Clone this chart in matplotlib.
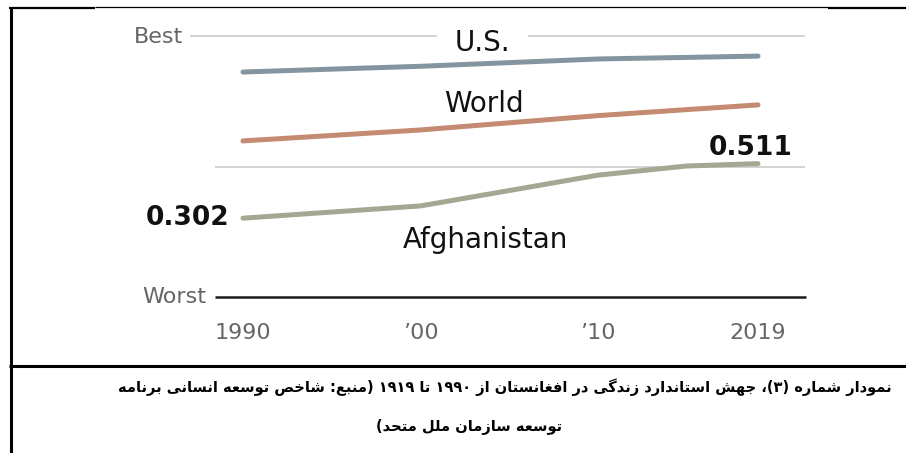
import re
import matplotlib
matplotlib.use("Agg")
import matplotlib.pyplot as plt
from matplotlib.lines import Line2D

# ---------------- data ----------------
years = [1990, 2000, 2010, 2015, 2019]
us = [0.862, 0.884, 0.912, 0.918, 0.923]
world = [0.598, 0.640, 0.695, 0.718, 0.736]
afghanistan = [0.302, 0.349, 0.467, 0.502, 0.511]

tick_years = [1990, 2000, 2010, 2019]
tick_labels = ["1990", "\u201900", "\u201910", "2019"]

series_names = ["U.S.", "World", "Afghanistan"]
caption_line1 = "نمودار شماره (۳)، جهش استاندارد زندگی در افغانستان از ۱۹۹۰ تا ۱۹۱۹ (منبع: شاخص توسعه انسانی برنامه"
caption_line2 = "توسعه سازمان ملل متحد)"

# ---------------- minimal Persian shaping (presentation forms + visual order) ----------------
FORMS = {
    '\u0627': ('\uFE8D', '\uFE8E', None, None),
    '\u0628': ('\uFE8F', '\uFE90', '\uFE91', '\uFE92'),
    '\u067E': ('\uFB56', '\uFB57', '\uFB58', '\uFB59'),
    '\u062A': ('\uFE95', '\uFE96', '\uFE97', '\uFE98'),
    '\u062B': ('\uFE99', '\uFE9A', '\uFE9B', '\uFE9C'),
    '\u062C': ('\uFE9D', '\uFE9E', '\uFE9F', '\uFEA0'),
    '\u0686': ('\uFB7A', '\uFB7B', '\uFB7C', '\uFB7D'),
    '\u062D': ('\uFEA1', '\uFEA2', '\uFEA3', '\uFEA4'),
    '\u062E': ('\uFEA5', '\uFEA6', '\uFEA7', '\uFEA8'),
    '\u062F': ('\uFEA9', '\uFEAA', None, None),
    '\u0630': ('\uFEAB', '\uFEAC', None, None),
    '\u0631': ('\uFEAD', '\uFEAE', None, None),
    '\u0632': ('\uFEAF', '\uFEB0', None, None),
    '\u0698': ('\uFB8A', '\uFB8B', None, None),
    '\u0633': ('\uFEB1', '\uFEB2', '\uFEB3', '\uFEB4'),
    '\u0634': ('\uFEB5', '\uFEB6', '\uFEB7', '\uFEB8'),
    '\u0635': ('\uFEB9', '\uFEBA', '\uFEBB', '\uFEBC'),
    '\u0636': ('\uFEBD', '\uFEBE', '\uFEBF', '\uFEC0'),
    '\u0637': ('\uFEC1', '\uFEC2', '\uFEC3', '\uFEC4'),
    '\u0638': ('\uFEC5', '\uFEC6', '\uFEC7', '\uFEC8'),
    '\u0639': ('\uFEC9', '\uFECA', '\uFECB', '\uFECC'),
    '\u063A': ('\uFECD', '\uFECE', '\uFECF', '\uFED0'),
    '\u0641': ('\uFED1', '\uFED2', '\uFED3', '\uFED4'),
    '\u0642': ('\uFED5', '\uFED6', '\uFED7', '\uFED8'),
    '\u06A9': ('\uFB8E', '\uFB8F', '\uFB90', '\uFB91'),
    '\u06AF': ('\uFB92', '\uFB93', '\uFB94', '\uFB95'),
    '\u0644': ('\uFEDD', '\uFEDE', '\uFEDF', '\uFEE0'),
    '\u0645': ('\uFEE1', '\uFEE2', '\uFEE3', '\uFEE4'),
    '\u0646': ('\uFEE5', '\uFEE6', '\uFEE7', '\uFEE8'),
    '\u0647': ('\uFEE9', '\uFEEA', '\uFEEB', '\uFEEC'),
    '\u0648': ('\uFEED', '\uFEEE', None, None),
    '\u06CC': ('\uFBFC', '\uFBFD', '\uFBFE', '\uFBFF'),
}


def shape(s):
    out = []
    n = len(s)
    for i, c in enumerate(s):
        if c not in FORMS:
            out.append(c)
            continue
        f = FORMS[c]
        prev = s[i - 1] if i > 0 else ''
        nxt = s[i + 1] if i + 1 < n else ''
        jp = prev in FORMS and FORMS[prev][2] is not None
        jn = f[2] is not None and nxt in FORMS
        if jp and jn:
            out.append(f[3])
        elif jp:
            out.append(f[1])
        elif jn:
            out.append(f[2])
        else:
            out.append(f[0])
    return ''.join(out)


def rtl_visual(s):
    rev = shape(s)[::-1]
    rev = re.sub(r'[0-9\u06F0-\u06F9\u0660-\u0669]+', lambda m: m.group(0)[::-1], rev)
    return rev.translate(str.maketrans('()', ')('))


# ---------------- figure ----------------
W, H = 906, 453
fig = plt.figure(figsize=(W / 100, H / 100), dpi=100)
fig.patch.set_facecolor("white")

# axes spanning whole figure, scaled so that 1990..2019 and 0..1 sit where the reference has them
ax = fig.add_axes([0, 0, 1, 1])
k = (758 - 243) / 29.0
ax.set_xlim(1990 - 243 / k, 1990 + (W - 243) / k)
ax.set_ylim(-(H - 297) / 261.0, 297 / 261.0)
ax.axis("off")


def px_year(px):
    return 1990 + (px - 243) / k


def px_val(py):
    return (297 - py) / 261.0


grid_col = "#cccccc"
# "Best" line (with gap around U.S.)
ax.plot([px_year(190), px_year(437)], [1, 1], color=grid_col, lw=1.2, solid_capstyle="butt")
ax.plot([px_year(528), px_year(805)], [1, 1], color=grid_col, lw=1.2, solid_capstyle="butt")
# mid line
ax.plot([px_year(215), px_year(805)], [0.5, 0.5], color=grid_col, lw=1.2, solid_capstyle="butt")
# "Worst" line
ax.plot([px_year(215), px_year(806)], [0, 0], color="#1a1a1a", lw=1.8, solid_capstyle="butt")

colors = {"U.S.": "#8595a0", "World": "#c48a72", "Afghanistan": "#a3a892"}
for name, vals in zip(series_names, [us, world, afghanistan]):
    ax.plot(years, vals, color=colors[name], lw=3.6, solid_capstyle="round",
            solid_joinstyle="round")

lab_font = "DejaVu Sans"
gray = "#666666"
ax.text(px_year(183), px_val(43), "Best", ha="right", va="baseline", fontsize=16,
        color=gray, family=lab_font)
ax.text(px_year(206), px_val(303), "Worst", ha="right", va="baseline", fontsize=16,
        color=gray, family=lab_font)

ax.text(px_year(482), px_val(51), "U.S.", ha="center", va="baseline", fontsize=20,
        color="#111111", family=lab_font)
ax.text(px_year(484), px_val(112), "World", ha="center", va="baseline", fontsize=20,
        color="#111111", family=lab_font)
ax.text(px_year(485), px_val(248), "Afghanistan", ha="center", va="baseline", fontsize=20,
        color="#111111", family=lab_font)

ax.annotate(f"{afghanistan[0]:.3f}", (years[0], afghanistan[0]), xytext=(-10, 0),
            textcoords="offset points", ha="right", va="center", fontsize=19,
            fontweight="bold", color="#111111", family=lab_font)
ax.annotate(f"{afghanistan[-1]:.3f}", (years[-1], afghanistan[-1]), xytext=(-5, 11),
            textcoords="offset points", ha="center", va="center", fontsize=19,
            fontweight="bold", color="#111111", family=lab_font)

for yr, lab in zip(tick_years, tick_labels):
    ax.text(yr, px_val(339), lab, ha="center", va="baseline", fontsize=16,
            color=gray, family=lab_font)

# ---------------- frame lines ----------------
def fx(px):
    return px / W


def fy(py):
    return 1 - py / H


frame = dict(color="black", transform=fig.transFigure, solid_capstyle="butt")
fig.add_artist(Line2D([fx(10.5), fx(10.5)], [fy(6.5), fy(H)], lw=2.2, **frame))
fig.add_artist(Line2D([fx(9), fx(95)], [fy(7.5), fy(7.5)], lw=1.6, **frame))
fig.add_artist(Line2D([fx(95), fx(828)], [fy(7.2), fy(7.2)], lw=0.9, **frame))
fig.add_artist(Line2D([fx(828), fx(W)], [fy(7.5), fy(7.5)], lw=1.6, **frame))
fig.add_artist(Line2D([fx(9), fx(W)], [fy(366), fy(366)], lw=2.2, **frame))

# ---------------- caption ----------------
fig.text(fx(505), fy(387), rtl_visual(caption_line1), ha="center", va="center",
         fontsize=10.5, fontweight="bold", family="DejaVu Sans", color="black")
fig.text(fx(469), fy(427), rtl_visual(caption_line2), ha="center", va="center",
         fontsize=10.5, fontweight="bold", family="DejaVu Sans", color="black")

fig.savefig("out.png", dpi=100, facecolor="white")
